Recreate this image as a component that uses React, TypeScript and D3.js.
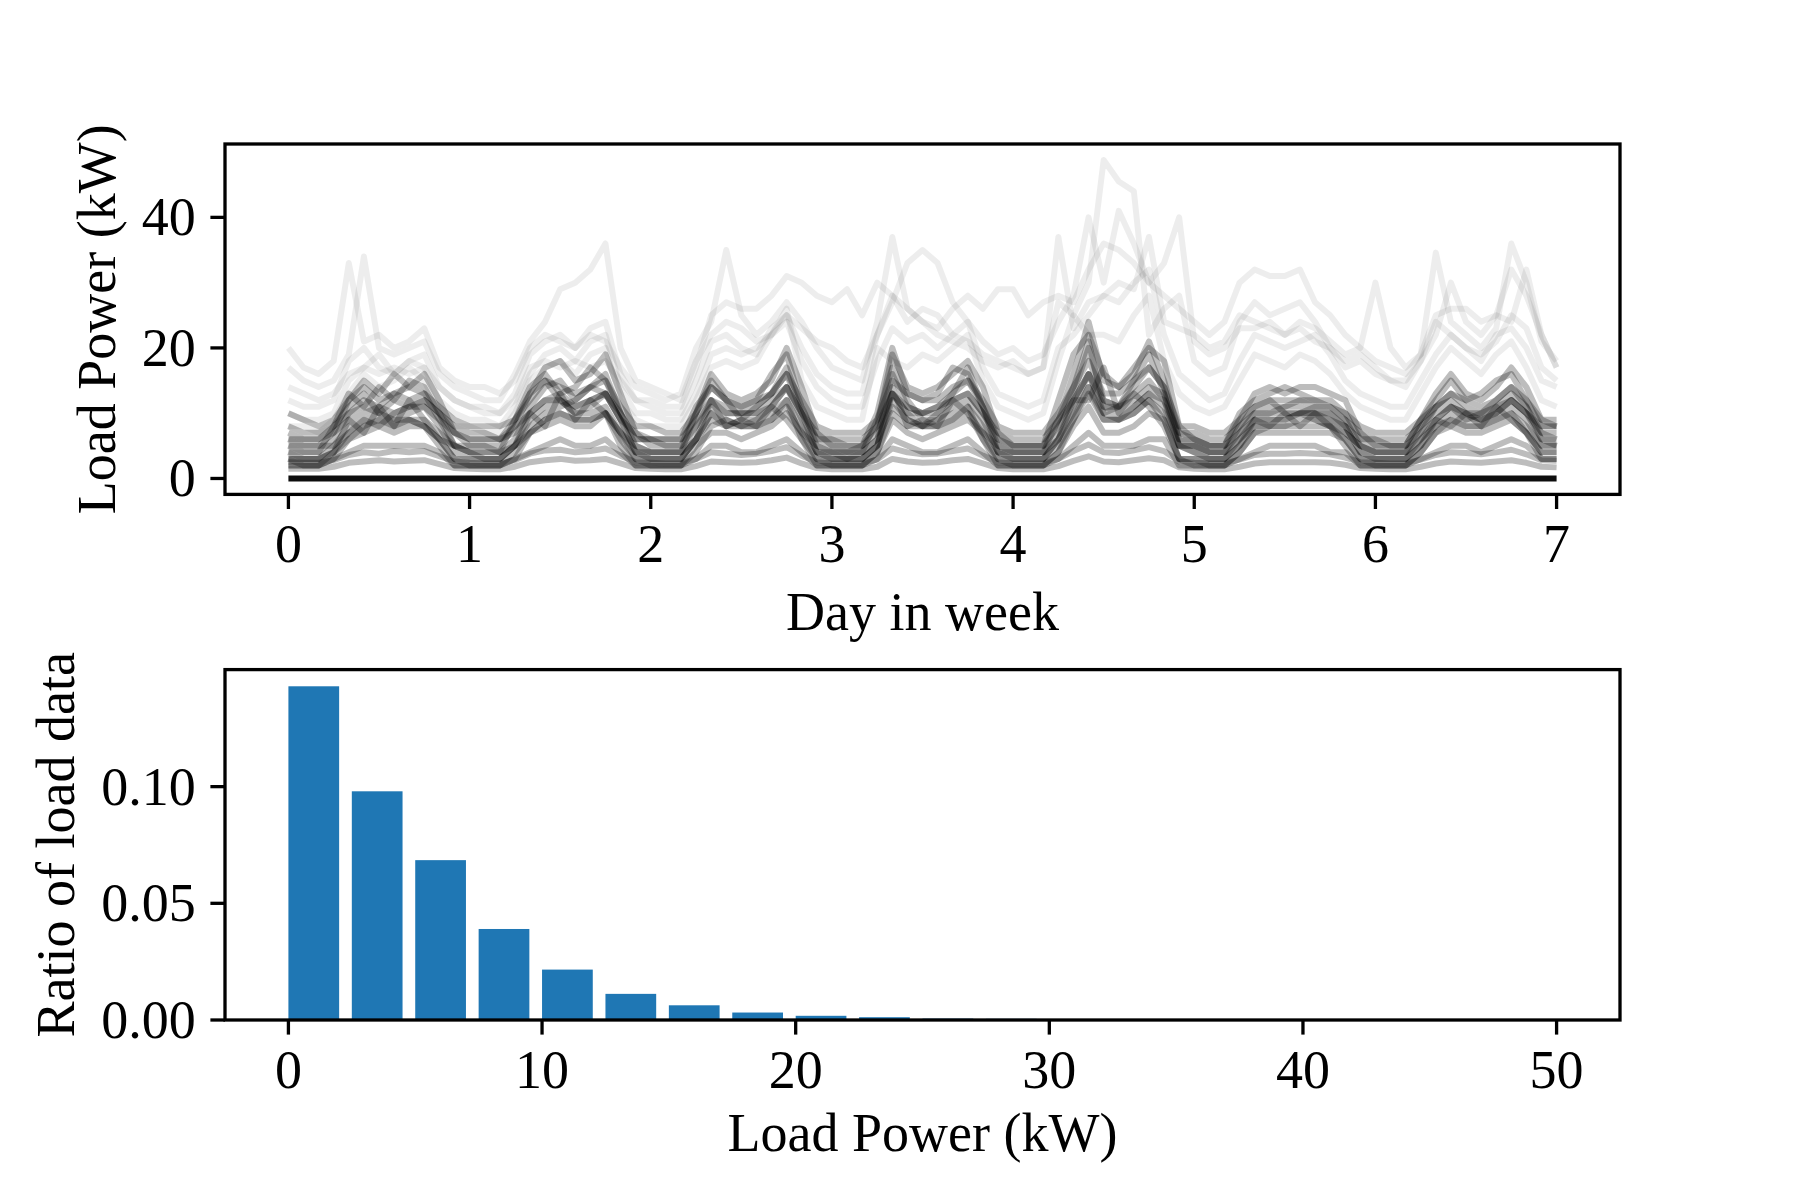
import React, { useEffect } from "react"
import * as d3 from "d3"

// ---- top panel: weekly load profiles (2-hour samples, 12 per day) ----
const stepsPerDay = 12
const dayTicks = [0, 1, 2, 3, 4, 5, 6, 7]
const loadTicks = [0, 20, 40]

// light outlier profiles
const loadPeak = [
  12, 11, 11, 12, 18, 20, 17, 16, 18, 19, 14, 12,
  11, 10, 10, 13, 19, 21, 22, 20, 23, 24, 16, 12,
  11, 10, 10, 15, 21, 22, 20, 19, 23, 25, 20, 16,
  14, 13, 13, 22, 28, 24, 26, 25, 22, 21, 19, 18,
  17, 16, 17, 27, 25, 30, 48.8, 45.5, 44, 22, 26, 28,
  18, 16, 17, 24, 27, 25, 26, 27, 24, 20, 18, 19,
  17, 15, 14, 18, 24, 22, 20, 19, 21, 25, 23, 17,
  15
]
const loadSpikyA = [
  20, 17, 16, 18, 33, 21, 22, 20, 21, 23, 17, 15,
  14, 14, 13, 15, 20, 22, 21, 20, 22, 21, 17, 14,
  13, 12, 13, 20, 24, 35, 25, 22, 24, 27, 24, 20,
  17, 16, 15, 24, 37, 26, 24, 22, 21, 20, 18, 17,
  18, 16, 17, 37, 23, 27, 28, 30, 29, 37, 24, 23,
  22, 20, 21, 25, 24, 23, 22, 24, 23, 21, 19, 20,
  30, 20, 17, 19, 34.6, 24, 22, 20, 23, 36, 30, 21,
  18
]
const loadSpikyB = [
  17, 15, 14, 15, 19, 34, 20, 19, 20, 21, 16, 14,
  13, 12, 12, 16, 21, 24, 29, 30, 32, 36, 20, 15,
  14, 13, 12, 18, 22, 24, 23, 21, 22, 25, 23, 21,
  20, 18, 17, 22, 27, 33, 35, 33, 27, 24, 21, 19,
  20, 18, 19, 24, 28, 40, 30, 41, 36, 30, 33, 40,
  21, 19, 20, 23, 23, 24, 22, 23, 21, 20, 17, 18,
  16, 15, 15, 18, 22, 30, 24, 22, 25, 24, 32, 22,
  17
]
const loadPlateau = [
  14, 13, 12, 13, 16, 17, 16, 17, 16, 17, 14, 12,
  11, 11, 10, 12, 17, 18, 17, 18, 17, 18, 15, 12,
  12, 11, 11, 17, 25, 27, 26, 26, 28, 31, 30, 28,
  27, 29, 25, 30, 28, 26, 24, 23, 26, 28, 26, 29,
  29, 25, 27, 28, 27, 32, 36, 35, 33, 30, 28, 26,
  24, 22, 24, 30, 32, 31, 31, 32, 27, 25, 22, 20,
  18, 17, 16, 19, 25, 26, 26, 24, 25, 32, 28, 22,
  17
]
const loadUpperA = [
  10, 9, 9, 10, 15, 17, 19, 16, 18, 17, 12, 10,
  9, 9, 8, 11, 16, 19, 20, 18, 21, 22, 14, 10,
  10, 9, 9, 13, 19, 20, 19, 20, 22, 24, 18, 14,
  12, 11, 11, 18, 23, 21, 22, 20, 22, 24, 17, 13,
  12, 11, 12, 20, 22, 25, 28, 27, 30, 32, 22, 16,
  14, 12, 13, 18, 22, 21, 20, 21, 22, 19, 15, 13,
  12, 11, 11, 15, 19, 22, 20, 18, 22, 23, 20, 15,
  14
]
const loadUpperB = [
  8, 8, 7, 9, 13, 16, 14, 15, 17, 15, 10, 8,
  8, 7, 7, 10, 15, 17, 18, 16, 19, 20, 12, 9,
  8, 8, 8, 12, 17, 18, 17, 18, 22, 26, 15, 11,
  10, 9, 9, 20, 18, 17, 19, 18, 20, 22, 15, 11,
  10, 9, 10, 18, 25, 22, 22, 21, 25, 28, 18, 13,
  11, 10, 11, 15, 19, 18, 17, 19, 18, 16, 13, 11,
  10, 9, 9, 13, 17, 20, 18, 16, 19, 21, 17, 12,
  11
]

// dense core profiles
const loadCoreA = [
  6, 5, 5, 7, 12, 15, 13, 16, 14, 16, 12, 7,
  5, 5, 5, 8, 13, 17, 18, 15, 16, 19, 13, 7,
  5, 5, 5, 10, 16, 13, 12, 13, 15, 20, 14, 7,
  5, 4, 5, 8, 19, 14, 13, 14, 16, 18, 14, 7,
  5, 5, 5, 9, 16, 24, 15, 14, 17, 20, 18, 8,
  6, 5, 5, 9, 13, 14, 13, 14, 14, 13, 12, 7,
  5, 5, 5, 9, 13, 16, 13, 12, 14, 17, 14, 9,
  8
]
const loadCoreB = [
  4, 4, 4, 6, 10, 12, 11, 13, 12, 13, 9, 5,
  4, 4, 4, 6, 11, 14, 15, 12, 14, 16, 10, 5,
  4, 4, 4, 8, 12, 11, 10, 11, 13, 17, 11, 5,
  4, 3, 4, 6, 16, 11, 10, 11, 13, 15, 11, 5,
  4, 4, 4, 7, 13, 20, 12, 11, 14, 17, 14, 6,
  5, 4, 4, 7, 10, 11, 11, 12, 11, 11, 9, 5,
  4, 4, 4, 7, 11, 13, 11, 10, 12, 14, 11, 7,
  6
]
const loadCoreC = [
  3, 3, 3, 5, 8, 9, 10, 9, 10, 11, 8, 4,
  3, 3, 3, 5, 9, 11, 12, 10, 11, 13, 9, 4,
  3, 3, 3, 6, 10, 9, 8, 9, 11, 14, 9, 4,
  3, 3, 3, 5, 13, 10, 8, 9, 11, 12, 9, 4,
  3, 3, 3, 6, 11, 16, 10, 9, 11, 13, 12, 5,
  4, 3, 3, 6, 9, 9, 9, 10, 10, 9, 8, 4,
  3, 3, 3, 6, 9, 11, 9, 9, 10, 12, 10, 6,
  5
]
const loadCoreD = [
  3, 2, 2, 4, 6, 7, 8, 7, 8, 8, 6, 3,
  2, 2, 2, 4, 7, 8, 9, 8, 8, 10, 7, 3,
  2, 2, 2, 5, 7, 7, 6, 7, 8, 10, 7, 3,
  2, 2, 2, 4, 9, 7, 6, 7, 8, 9, 7, 3,
  2, 2, 2, 4, 8, 11, 7, 7, 8, 10, 9, 3,
  3, 2, 2, 4, 7, 7, 7, 7, 7, 7, 6, 3,
  2, 2, 2, 4, 7, 8, 7, 7, 8, 9, 7, 4,
  4
]
const loadCoreE = [
  2, 2, 2, 3, 4, 5, 5, 5, 5, 5, 4, 2,
  2, 2, 2, 3, 4, 5, 6, 5, 5, 6, 4, 2,
  2, 2, 2, 3, 5, 5, 4, 4, 5, 6, 4, 2,
  2, 2, 2, 3, 6, 5, 4, 4, 5, 6, 4, 2,
  2, 2, 2, 3, 5, 7, 5, 5, 5, 6, 6, 2,
  2, 2, 2, 3, 4, 5, 5, 5, 5, 4, 4, 2,
  2, 2, 2, 3, 4, 5, 5, 4, 5, 6, 5, 3,
  3
]
const loadCoreF = [
  1.5, 1.5, 1.5, 1.8, 2.4, 2.6, 2.8, 2.6, 2.7, 2.8, 2.2, 1.6,
  1.5, 1.4, 1.4, 1.8, 2.5, 2.8, 3, 2.7, 2.8, 3, 2.3, 1.6,
  1.5, 1.4, 1.4, 1.9, 2.6, 2.5, 2.4, 2.5, 2.8, 3.2, 2.3, 1.6,
  1.4, 1.4, 1.4, 1.8, 3, 2.6, 2.4, 2.5, 2.8, 3, 2.3, 1.6,
  1.4, 1.4, 1.4, 1.9, 2.7, 3.4, 2.6, 2.5, 2.8, 3.1, 2.8, 1.7,
  1.5, 1.4, 1.4, 1.8, 2.3, 2.5, 2.5, 2.5, 2.5, 2.4, 2.1, 1.6,
  1.5, 1.4, 1.4, 1.8, 2.3, 2.6, 2.5, 2.4, 2.6, 2.8, 2.4, 1.8,
  1.7
]
const loadCoreG = [
  10, 9, 8, 9, 12, 14, 12, 13, 14, 13, 11, 9,
  8, 8, 8, 9, 12, 15, 14, 13, 14, 15, 11, 8,
  8, 7, 7, 10, 14, 12, 11, 12, 13, 16, 12, 8,
  7, 7, 7, 9, 15, 13, 12, 12, 14, 15, 12, 8,
  7, 7, 7, 10, 14, 18, 13, 13, 15, 17, 14, 8,
  8, 7, 7, 9, 11, 12, 12, 12, 12, 11, 10, 8,
  7, 7, 7, 9, 11, 13, 12, 11, 12, 14, 12, 9,
  9
]
const loadCoreH = [
  4, 3, 3, 4, 7, 9, 8, 10, 11, 12, 10, 5,
  4, 3, 3, 5, 8, 10, 11, 12, 14, 13, 9, 4,
  3, 3, 3, 6, 10, 8, 9, 11, 13, 16, 10, 4,
  3, 3, 3, 5, 12, 9, 8, 10, 13, 17, 11, 4,
  3, 3, 3, 5, 9, 14, 10, 11, 15, 19, 13, 5,
  4, 3, 3, 5, 8, 9, 9, 10, 11, 10, 8, 4,
  3, 3, 3, 5, 8, 10, 9, 10, 11, 13, 11, 6,
  6
]
const loadCoreI = [
  5, 4, 4, 8, 11, 13, 10, 9, 9, 8, 6, 5,
  4, 4, 4, 9, 13, 15, 12, 10, 10, 11, 7, 4,
  4, 4, 4, 10, 15, 12, 9, 9, 10, 12, 8, 4,
  4, 4, 4, 9, 17, 12, 9, 9, 10, 11, 8, 4,
  4, 4, 4, 9, 14, 21, 11, 10, 11, 13, 11, 5,
  5, 4, 4, 8, 11, 12, 10, 10, 9, 8, 7, 5,
  4, 4, 4, 8, 11, 12, 10, 9, 10, 11, 9, 5,
  5
]
const loadCoreJ = [
  6, 6, 6, 7, 9, 10, 11, 10, 11, 11, 9, 7,
  6, 6, 6, 7, 10, 12, 13, 11, 12, 13, 10, 6,
  6, 5, 5, 8, 11, 10, 10, 10, 12, 14, 10, 6,
  5, 5, 5, 7, 13, 10, 10, 10, 12, 13, 10, 6,
  5, 5, 5, 8, 12, 16, 11, 11, 12, 14, 13, 6,
  6, 5, 5, 7, 9, 10, 10, 10, 10, 9, 8, 6,
  5, 5, 5, 7, 9, 11, 10, 9, 10, 12, 10, 7,
  7
]
const loadCoreK = [
  3, 3, 3, 4, 9, 7, 11, 8, 12, 9, 6, 3,
  3, 3, 3, 5, 10, 8, 13, 9, 12, 10, 6, 3,
  3, 3, 3, 6, 12, 8, 9, 8, 11, 9, 6, 3,
  3, 3, 3, 5, 14, 8, 9, 8, 12, 10, 6, 3,
  3, 3, 3, 6, 12, 12, 17, 10, 13, 11, 8, 3,
  3, 3, 3, 5, 9, 8, 10, 8, 10, 8, 6, 3,
  3, 3, 3, 5, 9, 8, 10, 8, 11, 9, 7, 4,
  4
]
const loadCoreL = [
  2, 2, 2, 3, 6, 8, 9, 8, 9, 8, 5, 2,
  2, 2, 2, 3, 7, 9, 10, 9, 9, 10, 5, 2,
  2, 2, 2, 4, 8, 9, 8, 8, 9, 12, 6, 2,
  2, 2, 2, 4, 10, 8, 8, 8, 9, 11, 6, 2,
  2, 2, 2, 4, 9, 13, 9, 9, 10, 12, 9, 3,
  2, 2, 2, 4, 7, 8, 8, 8, 8, 8, 5, 2,
  2, 2, 2, 4, 7, 9, 8, 8, 9, 10, 7, 3,
  3
]
const loadCoreM = [
  5, 5, 5, 5, 7, 8, 9, 8, 9, 9, 7, 5,
  5, 5, 4, 5, 7, 9, 10, 9, 9, 10, 7, 5,
  4, 4, 4, 6, 9, 8, 8, 8, 9, 11, 7, 5,
  4, 4, 4, 6, 11, 9, 8, 8, 9, 10, 7, 5,
  4, 4, 4, 6, 10, 14, 9, 9, 10, 12, 10, 5,
  5, 4, 4, 6, 8, 8, 8, 9, 9, 8, 7, 5,
  4, 4, 4, 6, 8, 9, 8, 8, 9, 10, 8, 5,
  5
]
const loadCoreN = [
  7, 6, 6, 8, 13, 11, 14, 12, 15, 14, 10, 7,
  6, 6, 6, 9, 14, 16, 13, 14, 17, 15, 10, 6,
  6, 6, 6, 11, 14, 12, 11, 12, 16, 19, 11, 6,
  6, 5, 5, 10, 20, 13, 12, 13, 17, 16, 11, 6,
  5, 5, 5, 12, 19, 22, 16, 14, 16, 21, 15, 7,
  6, 5, 5, 10, 12, 13, 14, 13, 12, 12, 10, 6,
  6, 5, 5, 9, 12, 15, 12, 13, 15, 16, 12, 8,
  8
]
const loadCoreO = [
  2.5, 2.4, 2.4, 2.8, 3.6, 4, 3.8, 4.2, 4, 4.2, 3.4, 2.6,
  2.4, 2.3, 2.3, 2.8, 3.8, 4.3, 4.4, 4, 4.2, 4.6, 3.5, 2.5,
  2.4, 2.3, 2.3, 3, 4, 3.8, 3.6, 3.8, 4.2, 4.8, 3.5, 2.5,
  2.3, 2.3, 2.3, 2.9, 4.6, 4, 3.7, 3.8, 4.2, 4.6, 3.5, 2.5,
  2.3, 2.3, 2.3, 3, 4.2, 5.2, 4, 3.9, 4.3, 4.8, 4.2, 2.6,
  2.4, 2.3, 2.3, 2.9, 3.6, 3.8, 3.8, 3.9, 3.8, 3.7, 3.2, 2.5,
  2.4, 2.3, 2.3, 2.9, 3.6, 4, 3.9, 3.7, 4, 4.4, 3.7, 2.8,
  2.7
]
const loadCoreP = [
  8, 7, 7, 8, 10, 11, 10, 12, 11, 12, 10, 8,
  7, 7, 6, 8, 10, 12, 12, 11, 12, 13, 9, 7,
  6, 6, 6, 9, 12, 10, 10, 10, 11, 14, 10, 7,
  6, 6, 6, 8, 13, 11, 10, 11, 12, 13, 10, 7,
  6, 6, 6, 9, 12, 16, 12, 11, 13, 15, 12, 7,
  7, 6, 6, 8, 10, 10, 11, 11, 10, 10, 9, 7,
  6, 6, 6, 8, 10, 11, 10, 10, 11, 12, 10, 8,
  8
]
// households with no load, drawn from start to end of the week
const zeroLoad = [0, 0]
const zeroDays = [0, 7]

const lightProfiles = [loadPeak, loadSpikyA, loadSpikyB, loadPlateau, loadUpperA, loadUpperB]
const coreProfiles = [
  loadCoreA, loadCoreB, loadCoreC, loadCoreD, loadCoreE, loadCoreF, loadCoreG, loadCoreH,
  loadCoreI, loadCoreJ, loadCoreK, loadCoreL, loadCoreM, loadCoreN, loadCoreO, loadCoreP
]

// ---- bottom panel: histogram of load power ----
const binStarts = [
  0, 2.5, 5, 7.5, 10, 12.5, 15, 17.5, 20, 22.5,
  25, 27.5, 30, 32.5, 35, 37.5, 40, 42.5, 45, 47.5
]
const binRatio = [
  0.143, 0.098, 0.0685, 0.039, 0.0216, 0.0112, 0.0063, 0.0032, 0.0018, 0.0012,
  0.0006, 0.0005, 0.0002, 0.0001, 0.0001, 0, 0, 0, 0, 0
]
const barWidth = 2
const powerTicks = [0, 10, 20, 30, 40, 50]
const ratioTicks = [0, 0.05, 0.1]

const W = 1800
const H = 1200
const left = 225
const right = 1620
const top1 = 144
const bottom1 = 494.4
const top2 = 669.6
const bottom2 = 1020
const font = "'Liberation Serif', 'Times New Roman', serif"
const fs = 54
const tickLen = 14.6
const lw = 3.3

export default function App() {
  useEffect(() => {
    document.body.style.margin = "0"
  }, [])

  const x1 = d3.scaleLinear().domain([-0.35, 7.35]).range([left, right])
  const y1 = d3.scaleLinear().domain([-2.44, 51.24]).range([bottom1, top1])
  const x2 = d3.scaleLinear().domain([-2.5, 52.5]).range([left, right])
  const y2 = d3.scaleLinear().domain([0, 0.15015]).range([bottom2, top2])

  const profileLine = d3
    .line<number>()
    .x((d, i) => x1(i / stepsPerDay))
    .y(d => y1(d))

  const zeroLine = d3
    .line<number>()
    .x((d, i) => x1(zeroDays[i]))
    .y(d => y1(d))

  const fmtRatio = d3.format(".2f")

  return (
    <svg width={W} height={H} style={{ display: "block", background: "#fff" }} fontFamily={font}>
      {/* top panel */}
      <g fill="none" strokeLinejoin="round">
        {lightProfiles.map((p, i) => (
          <path key={"l" + i} d={profileLine(p) || ""} stroke="#000" strokeOpacity={0.07} strokeWidth={6} />
        ))}
        {coreProfiles.map((p, i) => (
          <path key={"c" + i} d={profileLine(p) || ""} stroke="#000" strokeOpacity={0.26} strokeWidth={6} />
        ))}
        <path d={zeroLine(zeroLoad) || ""} stroke="#000" strokeOpacity={0.95} strokeWidth={6} />
      </g>
      <rect x={left} y={top1} width={right - left} height={bottom1 - top1} fill="none" stroke="#000" strokeWidth={lw} />
      {dayTicks.map(t => (
        <g key={"dx" + t}>
          <line x1={x1(t)} x2={x1(t)} y1={bottom1} y2={bottom1 + tickLen} stroke="#000" strokeWidth={lw} />
          <text x={x1(t)} y={562} fontSize={fs} textAnchor="middle">{t}</text>
        </g>
      ))}
      {loadTicks.map(t => (
        <g key={"ly" + t}>
          <line x1={left} x2={left - tickLen} y1={y1(t)} y2={y1(t)} stroke="#000" strokeWidth={lw} />
          <text x={left - 2 * tickLen} y={y1(t) + 18} fontSize={fs} textAnchor="end">{t}</text>
        </g>
      ))}
      <text x={(left + right) / 2} y={630} fontSize={fs} textAnchor="middle">Day in week</text>
      <text
        transform={`translate(115, ${(top1 + bottom1) / 2}) rotate(-90)`}
        fontSize={fs}
        textAnchor="middle"
      >
        Load Power (kW)
      </text>

      {/* bottom panel */}
      {binStarts.map((b, i) => (
        <rect
          key={"b" + i}
          x={x2(b)}
          y={y2(binRatio[i])}
          width={x2(b + barWidth) - x2(b)}
          height={y2(0) - y2(binRatio[i])}
          fill="#1f77b4"
        />
      ))}
      <rect x={left} y={top2} width={right - left} height={bottom2 - top2} fill="none" stroke="#000" strokeWidth={lw} />
      {powerTicks.map(t => (
        <g key={"px" + t}>
          <line x1={x2(t)} x2={x2(t)} y1={bottom2} y2={bottom2 + tickLen} stroke="#000" strokeWidth={lw} />
          <text x={x2(t)} y={1088} fontSize={fs} textAnchor="middle">{t}</text>
        </g>
      ))}
      {ratioTicks.map(t => (
        <g key={"ry" + t}>
          <line x1={left} x2={left - tickLen} y1={y2(t)} y2={y2(t)} stroke="#000" strokeWidth={lw} />
          <text x={left - 2 * tickLen} y={y2(t) + 18} fontSize={fs} textAnchor="end">{fmtRatio(t)}</text>
        </g>
      ))}
      <text x={(left + right) / 2} y={1151} fontSize={fs} textAnchor="middle">Load Power (kW)</text>
      <text
        transform={`translate(74, ${(top2 + bottom2) / 2}) rotate(-90)`}
        fontSize={fs}
        textAnchor="middle"
      >
        Ratio of load data
      </text>
    </svg>
  )
}
